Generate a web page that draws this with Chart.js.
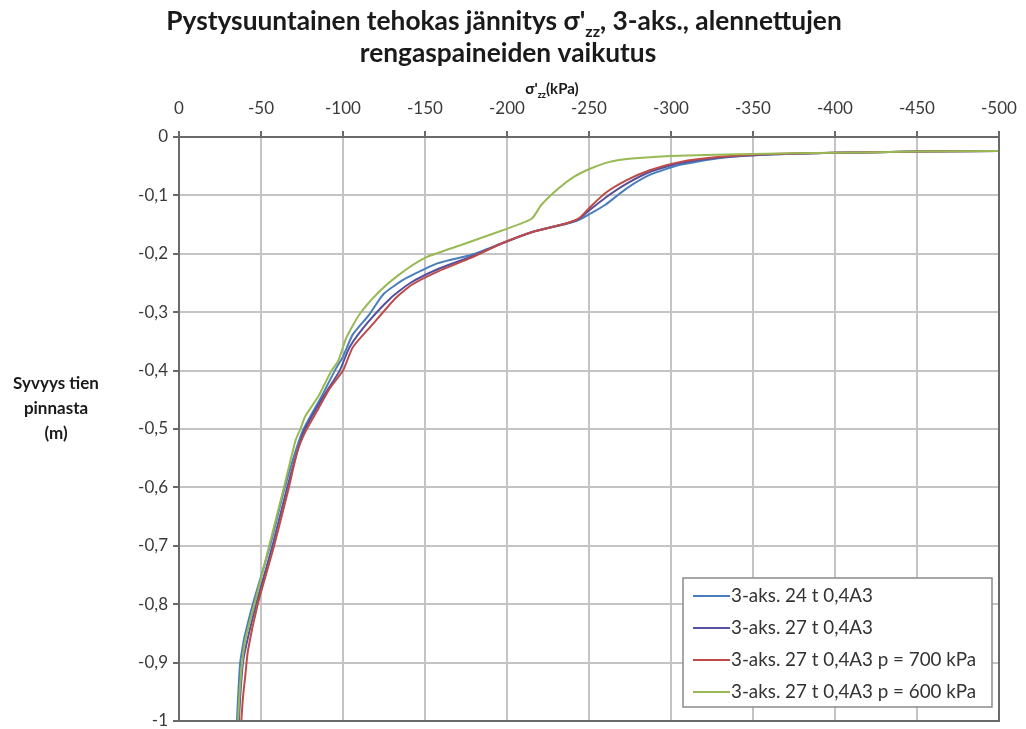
<!DOCTYPE html>
<html>
<head>
<meta charset="utf-8">
<script src="https://cdn.jsdelivr.net/npm/chart.js@4.4.1/dist/chart.umd.min.js"></script>
<style>
  html, body { margin: 0; padding: 0; background: #fff; }
  #chart { display: block; }
</style>
</head>
<body>
<canvas id="chart" width="1026" height="729"></canvas>
<script>
// Vertical effective stress vs depth, 3-axle truck, reduced tyre pressures

const seriesLabels = [
  '3-aks. 24 t 0,4A3',
  '3-aks. 27 t 0,4A3',
  '3-aks. 27 t 0,4A3 p = 700 kPa',
  '3-aks. 27 t 0,4A3 p = 600 kPa'
];
const seriesColors = ['#4a7ebb', '#55509f', '#be4b48', '#98b954'];

const xTicks = [0, -50, -100, -150, -200, -250, -300, -350, -400, -450, -500];
const yTicks = [0, -0.1, -0.2, -0.3, -0.4, -0.5, -0.6, -0.7, -0.8, -0.9, -1];

// stress σ'zz (kPa) and depth (m) per series
const stress24 = [-35.3, -36.2, -37.3, -39, -40, -45, -55.5, -64.5, -75, -87,
  -95, -100, -106, -116, -125, -139, -158, -178, -197, -215,
  -236, -244, -251, -260, -273, -287, -305, -330, -360, -400, -450, -500];
const depth24 = [-1.0, -0.95, -0.9, -0.87, -0.855, -0.8, -0.7, -0.6, -0.506, -0.444,
  -0.40, -0.376, -0.338, -0.304, -0.268, -0.241, -0.216, -0.202, -0.182, -0.163,
  -0.149, -0.142, -0.131, -0.116, -0.088, -0.065, -0.048, -0.036, -0.030, -0.027, -0.025, -0.024];

const stress27 = [-36.5, -37.5, -39, -41, -47, -57, -66, -76, -89, -98,
  -104, -115, -129, -141, -158, -178, -197, -215, -236, -244,
  -250, -260, -273, -287, -305, -330, -360, -400, -450, -500];
const depth27 = [-1.0, -0.95, -0.9, -0.87, -0.8, -0.7, -0.6, -0.505, -0.44, -0.40,
  -0.36, -0.318, -0.276, -0.25, -0.226, -0.205, -0.182, -0.163, -0.148, -0.14,
  -0.126, -0.104, -0.08, -0.06, -0.045, -0.035, -0.030, -0.027, -0.025, -0.024];

const stress700 = [-38, -39, -40.5, -42, -48, -58, -67, -72, -77, -84,
  -92, -100, -106, -118, -132, -142, -158, -178, -197, -215,
  -236, -244, -250, -260, -273, -287, -305, -330, -360, -400, -450, -500];
const depth700 = [-1.0, -0.96, -0.92, -0.88, -0.8, -0.7, -0.6, -0.54, -0.505, -0.47,
  -0.43, -0.40, -0.36, -0.321, -0.276, -0.253, -0.23, -0.207, -0.182, -0.163,
  -0.148, -0.139, -0.122, -0.096, -0.074, -0.057, -0.043, -0.034, -0.029, -0.027, -0.025, -0.024];

const stress600 = [-36, -37, -38.5, -40.5, -46, -55, -64, -71, -74, -77,
  -85, -93, -97, -102, -110, -122, -134, -150, -172, -197,
  -215, -221, -231, -241, -251, -262, -276, -304, -350, -400, -450, -500];
const depth600 = [-1.0, -0.95, -0.9, -0.86, -0.8, -0.7, -0.6, -0.52, -0.5, -0.478,
  -0.444, -0.40, -0.384, -0.344, -0.304, -0.265, -0.236, -0.207, -0.185, -0.16,
  -0.14, -0.116, -0.089, -0.068, -0.054, -0.043, -0.037, -0.032, -0.029, -0.027, -0.025, -0.024];

const seriesStress = [stress24, stress27, stress700, stress600];
const seriesDepth = [depth24, depth27, depth700, depth600];

const FONT = 'Lato, "Open Sans", sans-serif';
const fmtComma = v => String(Math.round(v * 10) / 10).replace('.', ',');

// text with optional subscript runs, centred on cx
function drawRich(ctx, parts, cx, y, size) {
  const subSize = Math.round(size * 0.6);
  let w = 0;
  parts.forEach(p => {
    ctx.font = `bold ${p.sub ? subSize : size}px ${FONT}`;
    p.w = ctx.measureText(p.t).width;
    w += p.w;
  });
  let x = cx - w / 2;
  parts.forEach(p => {
    ctx.font = `bold ${p.sub ? subSize : size}px ${FONT}`;
    ctx.fillText(p.t, x, p.sub ? y + size * 0.25 : y);
    x += p.w;
  });
}

const decorPlugin = {
  id: 'decor',
  afterDraw(chart) {
    const ctx = chart.ctx;
    const a = chart.chartArea;
    ctx.save();

    // frame on the bottom and right sides
    ctx.strokeStyle = '#6a6a6a';
    ctx.lineWidth = 2;
    ctx.beginPath();
    ctx.moveTo(a.left, a.bottom);
    ctx.lineTo(a.right, a.bottom);
    ctx.lineTo(a.right, a.top);
    ctx.stroke();

    ctx.fillStyle = '#1a1a1a';
    ctx.textAlign = 'left';
    ctx.textBaseline = 'alphabetic';
    drawRich(ctx, [{ t: "Pystysuuntainen tehokas jännitys σ'" }, { t: 'zz', sub: true }, { t: ', 3-aks., alennettujen' }], 504, 30, 26.3);
    drawRich(ctx, [{ t: 'rengaspaineiden vaikutus' }], 508, 62, 26.3);
    drawRich(ctx, [{ t: "σ'" }, { t: 'zz', sub: true }, { t: '(kPa)' }], 552, 94, 15);

    ['Syvyys tien', 'pinnasta', '(m)'].forEach((t, i) => {
      drawRich(ctx, [{ t }], 56, 389 + i * 25, 17);
    });

    // legend box
    const lx = 683, ly = 578, lw = 309, lh = 129;
    ctx.fillStyle = '#fff';
    ctx.fillRect(lx, ly, lw, lh);
    ctx.strokeStyle = '#8a8a8a';
    ctx.lineWidth = 1.5;
    ctx.strokeRect(lx, ly, lw, lh);
    ctx.font = `18.8px ${FONT}`;
    ctx.textBaseline = 'middle';
    seriesLabels.forEach((label, i) => {
      const ry = 596 + i * 32;
      ctx.strokeStyle = seriesColors[i];
      ctx.lineWidth = 2;
      ctx.beginPath();
      ctx.moveTo(693, ry);
      ctx.lineTo(730, ry);
      ctx.stroke();
      ctx.fillStyle = '#333';
      ctx.fillText(label, 731, ry);
    });
    ctx.restore();
  }
};

const datasets = seriesLabels.map((label, i) => ({
  label,
  data: seriesStress[i].map((x, k) => ({ x, y: seriesDepth[i][k] })),
  borderColor: seriesColors[i],
  borderWidth: 2,
  pointRadius: 0,
  showLine: true,
  tension: 0.2,
  order: 3 - i
}));

new Chart(document.getElementById('chart'), {
  type: 'scatter',
  data: { datasets },
  options: {
    responsive: false,
    animation: false,
    layout: { padding: { left: 0, right: 27, top: 0, bottom: 8 } },
    plugins: {
      legend: { display: false },
      tooltip: { enabled: false },
      title: { display: false }
    },
    scales: {
      x: {
        type: 'linear',
        position: 'top',
        min: -500,
        max: 0,
        reverse: true,
        afterBuildTicks: s => { s.ticks = xTicks.map(value => ({ value })); },
        afterFit: s => { s.height = 137; s.paddingLeft = 0; s.paddingRight = 0; },
        ticks: { color: '#3a3a3a', font: { family: FONT, size: 17 }, padding: 12, maxRotation: 0 },
        grid: { color: '#c4c4c4', lineWidth: 2, tickColor: '#6a6a6a', tickLength: 6 },
        border: { color: '#6a6a6a', width: 2 }
      },
      y: {
        type: 'linear',
        min: -1,
        max: 0,
        afterBuildTicks: s => { s.ticks = yTicks.map(value => ({ value })); },
        afterFit: s => { s.width = 179; s.paddingTop = 0; s.paddingBottom = 0; },
        ticks: { color: '#3a3a3a', font: { family: FONT, size: 17 }, padding: 5, callback: v => fmtComma(v) },
        grid: { color: '#c4c4c4', lineWidth: 2, tickColor: '#6a6a6a', tickLength: 6 },
        border: { color: '#6a6a6a', width: 2 }
      }
    }
  },
  plugins: [decorPlugin]
});
</script>
</body>
</html>
